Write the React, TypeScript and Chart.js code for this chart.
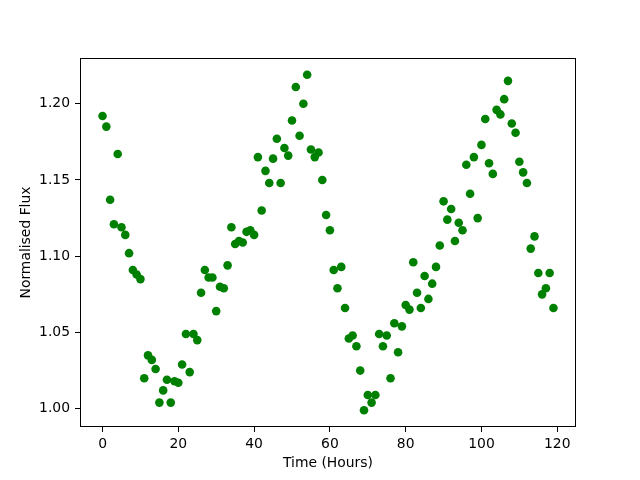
import React, { useEffect, useRef } from "react";
import { Chart, registerables } from "chart.js";

Chart.register(...registerables);

const hours: number[] = Array.from({ length: 120 }, (_, i) => i);

const flux: number[] = [
  1.192, 1.185, 1.137, 1.121, 1.167, 1.119, 1.114, 1.102, 1.091, 1.088,
  1.085, 1.020, 1.035, 1.032, 1.026, 1.004, 1.012, 1.019, 1.004, 1.018,
  1.017, 1.029, 1.049, 1.024, 1.049, 1.045, 1.076, 1.091, 1.086, 1.086,
  1.064, 1.080, 1.079, 1.094, 1.119, 1.108, 1.110, 1.109, 1.116, 1.117,
  1.114, 1.165, 1.130, 1.156, 1.148, 1.164, 1.177, 1.148, 1.171, 1.166,
  1.189, 1.211, 1.179, 1.200, 1.219, 1.170, 1.165, 1.168, 1.150, 1.127,
  1.117, 1.091, 1.079, 1.093, 1.066, 1.046, 1.048, 1.041, 1.025, 0.999,
  1.009, 1.004, 1.009, 1.049, 1.041, 1.048, 1.020, 1.056, 1.037, 1.054,
  1.068, 1.065, 1.096, 1.076, 1.066, 1.087, 1.072, 1.082, 1.093, 1.107,
  1.136, 1.124, 1.131, 1.110, 1.122, 1.117, 1.160, 1.141, 1.165, 1.125,
  1.173, 1.190, 1.161, 1.154, 1.196, 1.193, 1.203, 1.215, 1.187, 1.181,
  1.162, 1.155, 1.148, 1.105, 1.113, 1.089, 1.075, 1.079, 1.089, 1.066,
];

const xTicks: number[] = [0, 20, 40, 60, 80, 100, 120];
const yTicks: number[] = [1.0, 1.05, 1.1, 1.15, 1.2];

const xLabel = "Time (Hours)";
const yLabel = "Normalised Flux";

const FONT = "'DejaVu Sans', sans-serif";

function padRange(values: number[]) {
  const lo = Math.min(...values);
  const hi = Math.max(...values);
  const m = (hi - lo) * 0.05;
  return [lo - m, hi + m];
}

export default function App() {
  const ref = useRef<HTMLCanvasElement>(null);

  useEffect(() => {
    document.body.style.margin = "0";
    const canvas = ref.current;
    if (!canvas) return;
    const [xMin, xMax] = padRange(hours);
    const [yMin, yMax] = padRange(flux);

    const framePlugin = {
      id: "frame",
      afterDraw(chart: any) {
        const { ctx, chartArea } = chart;
        ctx.save();
        ctx.strokeStyle = "#000";
        ctx.lineWidth = 1;
        const l = Math.round(chartArea.left) + 0.5;
        const t = Math.round(chartArea.top) + 0.5;
        const r = Math.round(chartArea.right) - 0.5;
        const b = Math.round(chartArea.bottom) - 0.5;
        ctx.strokeRect(l, t, r - l, b - t);
        ctx.restore();
      },
    };

    const chart = new Chart(canvas, {
      type: "scatter",
      data: {
        datasets: [
          {
            data: hours.map((h, i) => ({ x: h, y: flux[i] })),
            backgroundColor: "#008000",
            borderColor: "#008000",
            borderWidth: 0,
            pointRadius: 4.3,
            pointHoverRadius: 4.3,
          },
        ],
      },
      options: {
        responsive: false,
        animation: false,
        events: [],
        layout: { padding: { top: 58, right: 64, left: 0, bottom: 0 } },
        plugins: {
          legend: { display: false },
          tooltip: { enabled: false },
        },
        scales: {
          x: {
            type: "linear",
            min: xMin,
            max: xMax,
            afterBuildTicks: (scale: any) => {
              scale.ticks = xTicks.map((v) => ({ value: v }));
            },
            afterFit: (scale: any) => {
              scale.height = 53;
            },
            border: { display: false },
            grid: {
              display: true,
              drawOnChartArea: false,
              drawTicks: true,
              tickLength: 5,
              color: "#000",
              lineWidth: 1,
            },
            ticks: {
              color: "#000",
              padding: 4,
              maxRotation: 0,
              font: { family: FONT, size: 13.9 },
              callback: (v: any) => String(v),
            },
            title: {
              display: true,
              text: xLabel,
              color: "#000",
              font: { family: FONT, size: 13.9 },
              padding: { top: 0, bottom: 8 },
            },
          },
          y: {
            type: "linear",
            min: yMin,
            max: yMax,
            afterBuildTicks: (scale: any) => {
              scale.ticks = yTicks.map((v) => ({ value: v }));
            },
            afterFit: (scale: any) => {
              scale.width = 80;
            },
            border: { display: false },
            grid: {
              display: true,
              drawOnChartArea: false,
              drawTicks: true,
              tickLength: 5,
              color: "#000",
              lineWidth: 1,
            },
            ticks: {
              color: "#000",
              padding: 5,
              font: { family: FONT, size: 13.9 },
              callback: (v: any) => Number(v).toFixed(2),
            },
            title: {
              display: true,
              text: yLabel,
              color: "#000",
              font: { family: FONT, size: 13.9 },
              padding: { top: 18, bottom: 0 },
            },
          },
        },
      },
      plugins: [framePlugin],
    });

    return () => chart.destroy();
  }, []);

  return (
    <div style={{ position: "absolute", left: 0, top: 0, width: 640, height: 480, background: "#fff" }}>
      <canvas ref={ref} width={640} height={480} style={{ width: 640, height: 480, display: "block" }} />
    </div>
  );
}
